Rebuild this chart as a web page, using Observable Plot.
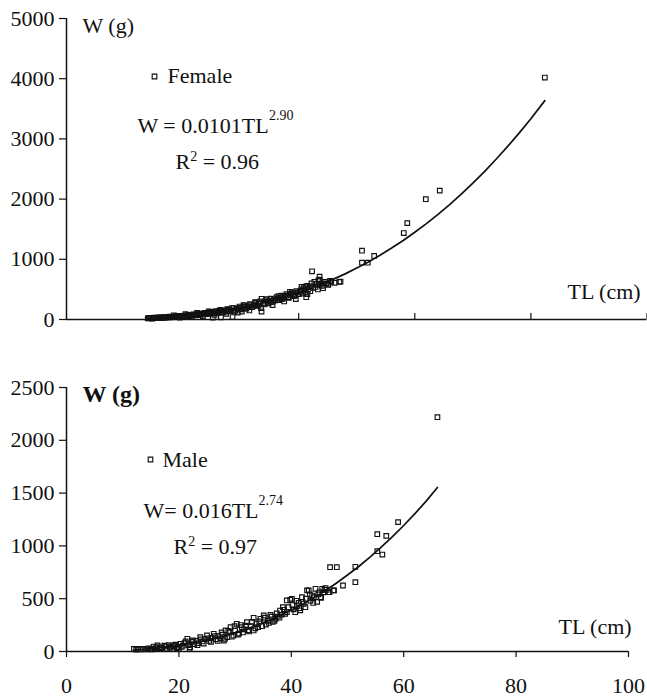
<!DOCTYPE html>
<html><head><meta charset="utf-8">
<script src="https://cdn.jsdelivr.net/npm/d3@7"></script>
<script src="https://cdn.jsdelivr.net/npm/@observablehq/plot@0.6"></script>
<style>body{margin:0;background:#fff}#chart svg{display:block}</style>
</head><body><div id="chart"></div>
<script>
// ---- data ----
const femaleTL = [14.0,14.3,14.6,15.0,15.3,15.6,16.0,16.3,16.6,17.0,17.3,17.6,18.0,18.3,18.6,19.0,19.3,19.6,20.0,20.3,20.6,21.0,21.3,21.6,22.0,22.3,22.6,23.0,23.3,23.6,24.0,24.3,24.6,25.0,25.2,25.5,25.8,26.0,26.3,26.6,26.9,27.2,27.5,27.8,28.0,28.3,28.6,29.0,29.3,29.6,30.0,30.2,30.5,30.8,31.2,31.5,31.8,32.2,32.5,32.8,33.1,33.6,33.6,33.9,34.2,34.6,35.0,35.3,35.7,36.0,36.4,36.8,37.1,37.5,37.8,38.2,38.6,39.0,39.4,39.8,40.2,40.5,40.7,41.0,41.2,41.3,41.3,41.6,41.9,42.3,42.5,42.7,43.1,43.3,43.6,43.6,43.6,44.0,44.5,45.1,45.1,45.6,47.0,47.2,50.9,50.9,51.9,53.0,58.1,58.7,61.9,64.3,82.4,
  14.2,14.8,15.1,15.8,16.2,16.8,17.1,17.8,18.1,18.8,19.1,19.8,20.1,20.8,21.1,21.8,22.1,22.8,23.1,23.8,24.1,24.8,25.1,25.7,26.1,26.7,27.0,27.7,28.1,28.8,29.1,29.8,30.1,30.7,31.0,31.6,32.0,32.6,33.0,33.4,34.0,34.4,34.8,35.2,35.6,36.2,36.6,37.0,37.4,37.9,38.3,38.8,39.2,39.6,40.0,40.4,40.9,41.5,42.0,42.2,42.9,43.4,43.9,44.2,44.8,45.4,46.2,
  18.5,19.5,20.5,21.5,22.5,23.5,24.5,25.5,26.5,27.5,28.5,29.5,30.5,31.5,32.5,33.5,34.5,35.5,36.5,37.5,38.5,39.5,40.5,41.5];
const femaleW  = [18,22,20,24,28,22,30,34,28,36,40,34,44,48,40,50,56,48,60,66,56,68,74,64,78,86,74,90,98,84,100,110,96,112,30,120,108,128,138,36,122,145,132,158,165,150,40,132,180,168,195,132,210,186,220,205,240,228,250,236,265,132,343,275,262,295,310,288,330,318,345,360,340,375,395,372,405,425,400,445,460,500,430,480,450,550,370,500,550,800,525,626,591,500,575,662,712,560,626,575,591,626,624,629,944,1143,944,1055,1436,1601,1998,2141,4019,
  26,16,30,34,24,40,30,46,36,54,42,62,50,76,58,86,68,98,78,112,88,126,98,140,110,150,118,172,140,190,150,215,168,232,180,255,205,280,225,300,250,320,270,345,300,370,320,395,350,420,360,450,390,470,420,480,520,560,470,600,540,650,600,520,600,640,610,
  70,30,90,40,110,55,135,75,160,95,190,115,240,150,290,190,340,240,390,300,460,340,540,420];

const maleTL = [12.0,12.7,13.6,14.2,14.9,15.5,15.8,16.2,16.6,17.0,17.4,17.9,18.2,18.6,19.0,19.4,19.8,20.0,20.3,20.7,21.0,21.5,21.9,22.0,22.3,22.7,23.1,23.5,23.8,24.2,24.6,25.0,25.4,25.8,26.2,26.6,27.0,27.4,27.8,28.0,28.3,28.6,29.0,29.2,29.7,30.0,30.3,30.7,31.2,31.6,32.1,32.5,32.8,33.3,33.3,33.8,34.1,34.5,35.1,35.5,35.8,36.3,36.7,37.2,37.6,38.0,38.5,38.9,39.2,39.2,39.8,40.1,40.4,40.7,41.0,41.3,41.6,41.9,42.2,42.5,42.8,43.1,43.4,43.7,44.0,44.3,44.6,45.0,45.2,45.3,45.5,45.9,46.3,46.6,46.8,46.9,47.5,47.6,48.1,49.2,51.4,51.4,55.3,55.3,56.2,56.9,59.0,66.0,
  12.4,13.2,14.6,15.2,16.0,16.9,17.6,18.4,19.2,19.6,20.5,21.2,21.7,22.5,23.3,23.9,24.4,25.2,25.7,26.4,26.9,27.6,28.2,28.8,29.4,29.9,30.5,31.0,31.4,31.9,32.3,33.0,33.6,34.3,34.8,35.3,36.0,36.5,37.0,37.4,37.9,38.3,38.7,39.5,40.2,40.9,41.4,42.0,42.6,43.3,43.9,44.8,45.7,46.1];
const maleW  = [25,25,25,20,25,47,30,57,35,40,55,25,60,45,50,65,42,25,73,55,80,120,25,41,90,70,100,80,135,95,120,152,100,130,168,115,145,125,160,104,199,135,180,230,150,200,262,170,230,210,278,190,240,319,199,260,230,310,341,255,290,347,280,310,330,388,420,357,372,483,490,499,400,372,430,460,390,514,452,420,578,578,480,530,514,594,470,560,514,508,594,584,584,562,562,798,578,578,798,625,802,656,1111,950,918,1095,1225,2219,
  18,20,30,20,42,30,48,35,58,30,45,95,60,105,60,115,75,125,90,145,100,180,120,195,140,240,160,250,180,245,200,280,220,285,240,320,270,330,290,360,320,350,395,420,440,480,410,470,500,540,460,540,560,600];

const femaleFitTL = [14,16,18,20,22,24,26,28,30,32,34,36,38,40,42,44,46,48,50,52,54,56,58,60,62,64,66,68,70,72,74,76,78,80,82.4];
const femaleFitW  = [21,31,44,60,79,102,128,159,194,234,279,329,385,447,515,589,671,758,855,957,1068,1187,1313,1450,1593,1746,1909,2083,2267,2457,2662,2875,3100,3336,3636];
const maleFitTL = [12,14,16,18,20,22,24,26,28,30,32,34,36,38,40,42,44,46,48,50,52,54,56,58,60,62,64,66];
const maleFitW  = [14.5,22,32,44,59,76,97,121,148,179,213,251,294,341,393,448,509,575,646,724,805,893,988,1087,1193,1306,1424,1553];

const xTicks = [0,20,40,60,80,100];
const femaleYTicks = [0,1000,2000,3000,4000,5000];
const maleYTicks = [0,500,1000,1500,2000,2500];

const femaleEq = ["W = 0.0101TL", "2.90", "0.96"];
const maleEq = ["W= 0.016TL", "2.74", "0.97"];

// ---- helpers ----
const FONT = "Liberation Serif";
const ink = "#111";
const zip = (a, b) => a.map((v, i) => ({TL: v, W: b[i]}));
const ctx = document.createElement("canvas").getContext("2d");
function tw(s, fs, weight = "normal") { ctx.font = `${weight} ${fs}px "${FONT}"`; return ctx.measureText(s).width; }
const sym = {symbol: "square", r: 2.6, fill: "none", stroke: ink, strokeWidth: 1.15};

function label(str, x, base, frame, o = {}) {
  const fs = o.fontSize || 22;
  return Plot.text([str], {frameAnchor: "top-left", textAnchor: "start", lineAnchor: "middle",
    dx: x - frame.left, dy: base - 0.32 * fs - frame.top, fontSize: fs,
    fontWeight: o.fontWeight || "normal", fill: ink});
}
function equation(eq, x, base, r2x, r2base, frame) {
  const w1 = tw(eq[0], 22);
  const wR = tw("R", 22), w2 = tw("2", 14), wsp = tw(" ", 22);
  return [
    label(eq[0], x, base, frame),
    label(eq[1], x + w1, base - 13, frame, {fontSize: 14}),
    label("R", r2x, r2base, frame),
    label("2", r2x + wR, r2base - 8, frame, {fontSize: 14}),
    label("= " + eq[2], r2x + wR + w2 + wsp, r2base, frame)
  ];
}

const style = {fontFamily: FONT, fontSize: "22px", color: ink, background: "#fff", overflow: "visible"};

// ---- top panel (female) ----
const topFrame = {left: 66, top: 18};
const femalePlot = Plot.plot({
  width: 647, height: 340, marginTop: 18, marginBottom: 21, marginLeft: 66, marginRight: 0.5,
  style,
  x: {domain: [0, 100], label: null},
  y: {domain: [0, 5000], label: null},
  marks: [
    Plot.axisY(femaleYTicks, {tickSize: 7, tickPadding: 5, tickFormat: d => String(d), label: null, strokeWidth: 1.2}),
    Plot.axisX(xTicks.slice(1), {tickSize: -6, tickFormat: () => "", label: null, strokeWidth: 1.2}),
    Plot.ruleX([0], {stroke: ink, strokeWidth: 1.5}),
    Plot.ruleY([0], {stroke: ink, strokeWidth: 1.5}),
    Plot.dot(zip(femaleTL, femaleW), {x: "TL", y: "W", ...sym}),
    Plot.line(zip(femaleFitTL, femaleFitW), {x: "TL", y: "W", stroke: ink, strokeWidth: 1.7}),
    label("W (g)", 82, 32, topFrame),
    Plot.dot([0], {frameAnchor: "top-left", dx: 154 - 66, dy: 76 - 18, ...sym}),
    label("Female", 167, 82, topFrame),
    ...equation(femaleEq, 137, 132, 175, 168, topFrame),
    label("TL (cm)", 567, 298, topFrame)
  ]
});

// ---- bottom panel (male) ----
const botFrame = {left: 66, top: 47 + 340};
const malePlot = Plot.plot({
  width: 647, height: 358, marginTop: 47, marginBottom: 47, marginLeft: 66, marginRight: 19,
  style,
  x: {domain: [0, 100], label: null},
  y: {domain: [0, 2500], label: null},
  marks: [
    Plot.axisY(maleYTicks, {tickSize: 7, tickPadding: 5, tickFormat: d => String(d), label: null, strokeWidth: 1.2}),
    Plot.axisX(xTicks, {tickSize: 6, tickPadding: 20, tickFormat: d => String(d), label: null, strokeWidth: 1.2}),
    Plot.ruleX([0], {stroke: ink, strokeWidth: 1.5}),
    Plot.ruleY([0], {stroke: ink, strokeWidth: 1.5}),
    Plot.dot(zip(maleTL, maleW), {x: "TL", y: "W", ...sym}),
    Plot.line(zip(maleFitTL, maleFitW), {x: "TL", y: "W", stroke: ink, strokeWidth: 1.7}),
    label("W (g)", 82, 401, botFrame, {fontSize: 24, fontWeight: "bold"}),
    Plot.dot([0], {frameAnchor: "top-left", dx: 150 - 66, dy: 459 - 387, ...sym}),
    label("Male", 162, 466, botFrame),
    ...equation(maleEq, 143, 517, 173, 553, botFrame),
    label("TL (cm)", 558, 633, botFrame)
  ]
});

document.getElementById("chart").append(femalePlot, malePlot);
</script>
</body></html>
